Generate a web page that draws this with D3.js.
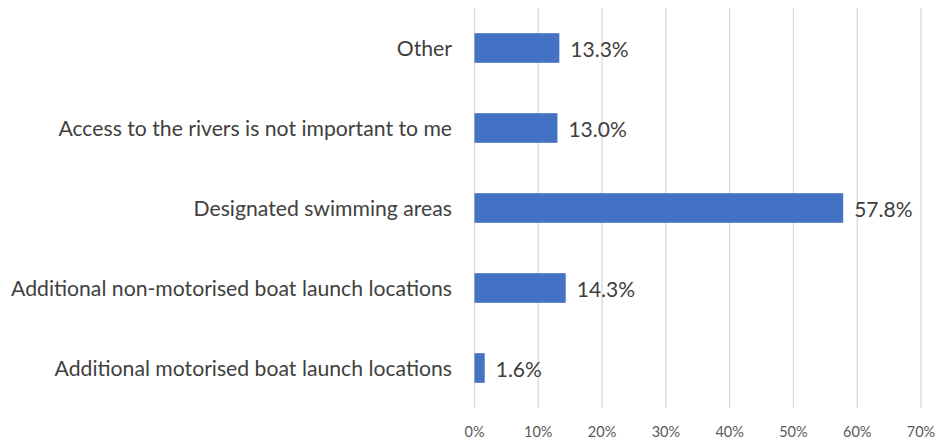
<!DOCTYPE html>
<html>
<head>
<meta charset="utf-8">
<script src="https://cdn.jsdelivr.net/npm/d3@7"></script>
<style>
  html, body { margin: 0; padding: 0; background: #fff; }
  svg { display: block; }
</style>
</head>
<body>
<svg id="chart" width="950" height="446"></svg>
<script>
// Categories listed top to bottom
const categories = [
  "Other",
  "Access to the rivers is not important to me",
  "Designated swimming areas",
  "Additional non-motorised boat launch locations",
  "Additional motorised boat launch locations"
];
const values = [13.3, 13.0, 57.8, 14.3, 1.6];
const tickValues = [0, 10, 20, 30, 40, 50, 60, 70];

const svg = d3.select("#chart");
const margin = { top: 8, left: 474.5, right: 29, bottom: 38 };
const W = 950, H = 446;

const x = d3.scaleLinear().domain([0, 70]).range([margin.left, W - margin.right]);
const y = d3.scaleBand().domain(categories).range([margin.top, H - margin.bottom]).paddingInner(0.63).paddingOuter(0.315);

const font = "Lato, 'Open Sans', sans-serif";

// vertical gridlines
svg.append("g")
  .selectAll("line")
  .data(tickValues)
  .join("line")
  .attr("x1", d => x(d)).attr("x2", d => x(d))
  .attr("y1", margin.top).attr("y2", H - margin.bottom)
  .attr("stroke", "#d9d9d9").attr("stroke-width", 1.3);

// x axis tick labels
svg.append("g")
  .selectAll("text")
  .data(tickValues)
  .join("text")
  .attr("x", d => x(d)).attr("y", 431)
  .attr("text-anchor", "middle").attr("dominant-baseline", "central")
  .attr("font-family", font).attr("font-size", 14.5).attr("fill", "#595959")
  .text(d => d + "%");

// bars
svg.append("g")
  .selectAll("rect")
  .data(values)
  .join("rect")
  .attr("x", x(0))
  .attr("y", (d, i) => y(categories[i]))
  .attr("width", d => x(d) - x(0))
  .attr("height", y.bandwidth())
  .attr("fill", "#4472c4");

// value labels
svg.append("g")
  .selectAll("text")
  .data(values)
  .join("text")
  .attr("x", d => x(d) + 11)
  .attr("y", (d, i) => y(categories[i]) + y.bandwidth() / 2)
  .attr("dominant-baseline", "central")
  .attr("font-family", font).attr("font-size", 21).attr("fill", "#404040")
  .text(d => d.toFixed(1) + "%");

// category labels
svg.append("g")
  .selectAll("text")
  .data(categories)
  .join("text")
  .attr("x", 452)
  .attr("y", d => y(d) + y.bandwidth() / 2)
  .attr("text-anchor", "end").attr("dominant-baseline", "central")
  .attr("font-family", font).attr("font-size", 21.2).attr("fill", "#404040")
  .text(d => d);
</script>
</body>
</html>
